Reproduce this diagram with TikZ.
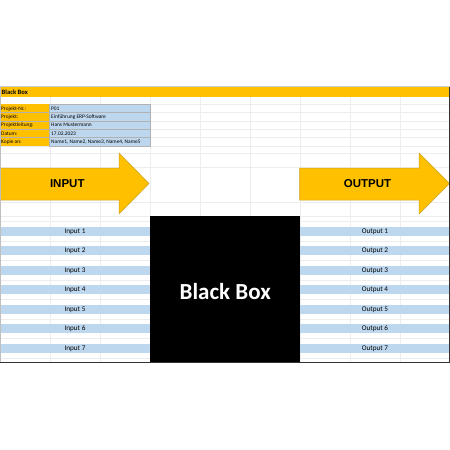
\documentclass[tikz,border=0pt]{standalone}
\usepackage{fontspec}
\setmainfont{Carlito}
\newfontfamily\arialfont{Liberation Sans}
\definecolor{xlorange}{HTML}{FFC000}
\definecolor{xlblue}{HTML}{BDD7EE}
\definecolor{xlgrid}{HTML}{EDEDED}
\definecolor{arrowedge}{HTML}{C9A227}
\begin{document}
\begin{tikzpicture}[x=1pt,y=-1pt,
  grid/.style={draw=xlgrid,line width=0.5pt},
  infolabel/.style={anchor=west,inner sep=0pt,font=\fontsize{5.4}{6}\selectfont},
  band/.style={fill=xlblue,draw=none},
  bandtext/.style={inner sep=0pt,font=\fontsize{7.2}{8}\selectfont},
  bigarrow/.style={fill=xlorange,draw=arrowedge,line width=0.5pt},
  arrowtext/.style={inner sep=0pt,font=\arialfont\bfseries\fontsize{11.5}{13}\selectfont}]
\useasboundingbox (0,0) rectangle (450,450);
\fill[white] (0,0) rectangle (450,450);
% faint grid
\foreach \x in {50,100,150,200,250,300,350,400}
  \draw[grid] (\x,96.5) -- (\x,362);
\foreach \y in {104.3,112.6,120.9,129.2,137.5,145.8,153.5,167,202,216,221.5,240.9,260.4,279.9,299.4,318.9,338.4,357.9}
  \draw[grid] (0,\y) -- (449,\y);
% top line and title bar
\draw[draw=black!20,line width=1pt] (0,86.5) -- (450,86.5);
\fill[xlorange] (0,87) rectangle (449,96.5);
\node[anchor=west,inner sep=0pt,font=\bfseries\fontsize{6.6}{8}\selectfont] (title) at (1.5,91.8) {Black Box};
% info block
\fill[xlorange] (0,104.3) rectangle (49,145.8);
\fill[xlblue] (49,104.3) rectangle (150,145.8);
\draw[black!30,line width=0.4pt] (49,104.3) rectangle (150,145.8);
\foreach \y in {112.6,120.9,129.2,137.5}
  \draw[black!30,line width=0.3pt] (0,\y) -- (150,\y);
\draw[black!30,line width=0.3pt] (49,104.3) -- (49,145.8);
\node[infolabel] (l1) at (1,108.6) {Projekt-Nr.:};
\node[infolabel] (l2) at (1,116.9) {Projekt:};
\node[infolabel] (l3) at (1,125.2) {Projektleitung:};
\node[infolabel] (l4) at (1,133.5) {Datum:};
\node[infolabel] (l5) at (1,141.8) {Kopie an:};
\node[infolabel] (v1) at (51,108.6) {P01};
\node[infolabel] (v2) at (51,116.9) {Einführung ERP-Software};
\node[infolabel] (v3) at (51,125.2) {Hans Mustermann};
\node[infolabel] (v4) at (51,133.5) {17.02.2023};
\node[infolabel] (v5) at (51,141.8) {Name1, Name2, Name3, Name4, Name5};
% arrows
\draw[bigarrow] (0,168) -- (119,168) -- (119,153) -- (149,183.5) -- (119,214) -- (119,200) -- (0,200) -- cycle;
\node[arrowtext] (input) at (67.3,184) {INPUT};
\draw[bigarrow] (299.5,168) -- (419,168) -- (419,153) -- (449.5,183.5) -- (419,214) -- (419,200) -- (299.5,200) -- cycle;
\node[arrowtext] (output) at (367.5,184) {OUTPUT};
% bands
\foreach \i [evaluate=\i as \c using 231.2+19.5*(\i-1)] in {1,...,7} {
  \fill[band] (0,\c-4.6) rectangle (150,\c+4.6);
  \fill[band] (300,\c-4.6) rectangle (449,\c+4.6);
  \node[bandtext] (in\i) at (75,\c+0.4) {Input \i};
  \node[bandtext] (out\i) at (375,\c+0.4) {Output \i};
}
% black box
\fill[black] (150,216) rectangle (300,362);
\node[text=white,inner sep=0pt,font=\bfseries\fontsize{23}{26}\selectfont] (bb) at (225.2,292) {Black Box};
% borders
\draw[black!80,line width=0.8pt] (0,362.2) -- (450,362.2);
\draw[black!80,line width=0.8pt] (449.5,87) -- (449.5,362.2);
\draw[black!25,line width=0.6pt] (0.3,87) -- (0.3,362.2);
\end{tikzpicture}
\end{document}
